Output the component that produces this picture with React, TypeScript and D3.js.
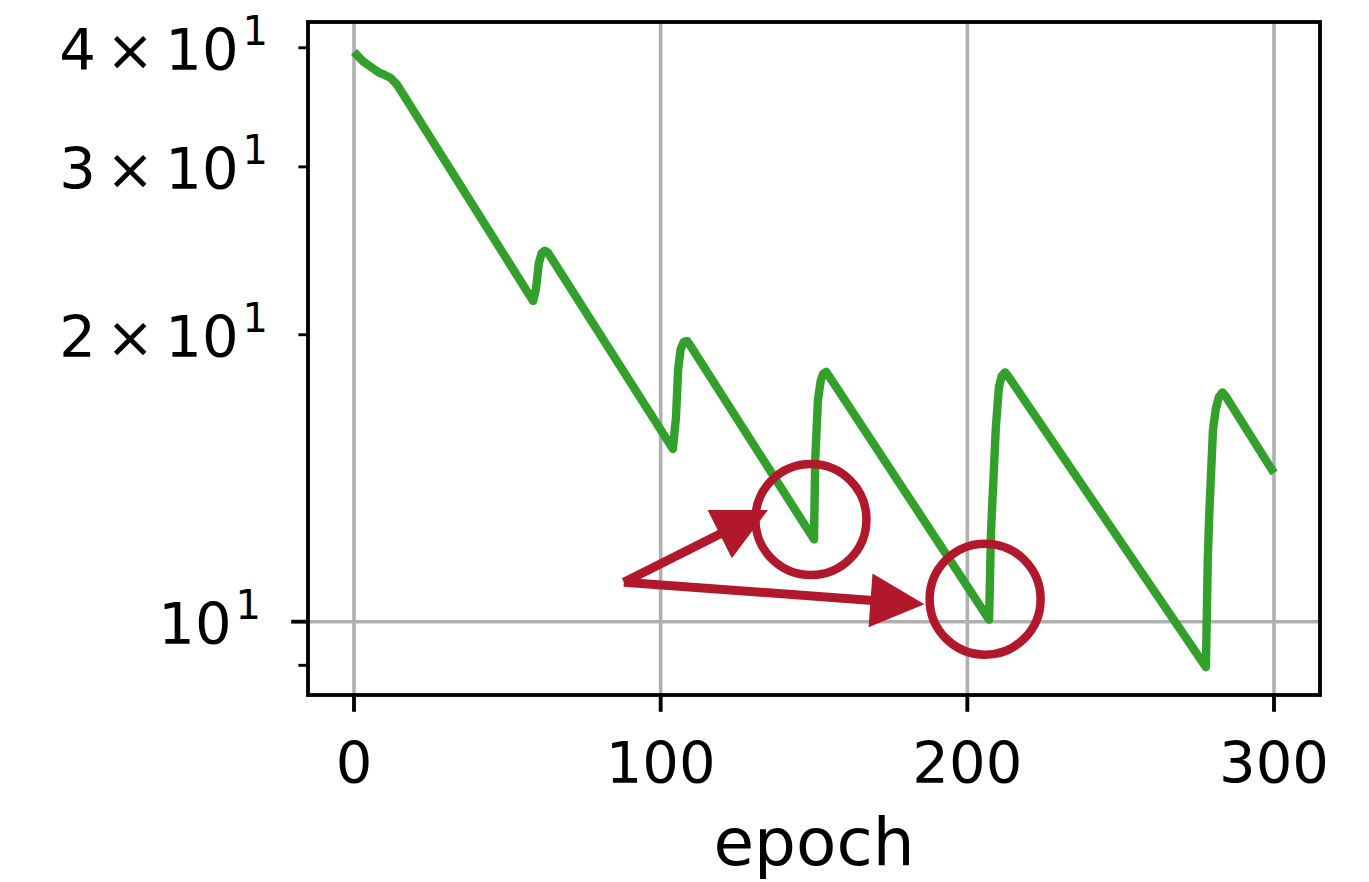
import React from "react";
import * as d3 from "d3";

// ---- data ----
const epochs = [
  0, 3, 5.5, 8, 10, 12, 14,
  58.4, 59.3, 60.3, 61.2, 62.2, 63.2,
  104.0, 105.0, 105.7, 106.5, 107.5, 108.6, 109.6,
  150.0, 150.4, 151.3, 152.2, 153.0, 154.0, 154.9,
  207.1, 207.7, 209.3, 210.3, 211.2, 212.3, 213.3,
  277.8, 278.4, 278.9, 280.1, 281.0, 282.0, 283.2, 284.2,
  300,
];
const losses = [
  39.6, 38.7, 38.2, 37.7, 37.46, 37.18, 36.6,
  21.7, 22.3, 23.8, 24.35, 24.5, 24.4,
  15.18, 16.4, 18.4, 19.3, 19.65, 19.7, 19.5,
  12.2, 14.8, 17.1, 17.9, 18.2, 18.28, 18.1,
  10.05, 12.39, 16.0, 17.63, 18.1, 18.26, 18.1,
  8.96, 11.6, 13.0, 15.9, 16.7, 17.2, 17.4, 17.25,
  14.32,
];
const xTicks = [0, 100, 200, 300];
const yMajorTicks = [10];
const yMinorTicks = [9, 20, 30, 40];
const yMinorLabeled = [20, 30, 40];
const xLabel = "epoch";

// annotation anchors (data coordinates)
const arrowTail: [number, number] = [88, 11];
const arrowTips: [number, number][] = [
  [135, 13.1],
  [186, 10.43],
];
const circleCenters: [number, number][] = [
  [149, 12.8],
  [205.8, 10.56],
];

const W = 1369;
const H = 882;
const L = 308, R = 1320, T = 22, B = 695;
const GREEN = "#33a02c";
const RED = "#b2182b";
const GRID = "#b0b0b0";
const FONT = "DejaVu Sans";
const TICK_FS = 57.6;
const SUP_FS = 40;

export default function App() {
  const x = d3.scaleLinear().domain([-15, 315]).range([L, R]);
  const y = d3.scaleLog().domain([8.377, 42.57]).range([B, T]);

  const pts: [number, number][] = epochs.map((e, i) => [e, losses[i]]);
  const line = d3
    .line<[number, number]>()
    .x((d) => x(d[0]))
    .y((d) => y(d[1]))
    .curve(d3.curveLinear);

  const tx = x(arrowTail[0]);
  const ty = y(arrowTail[1]);
  const headLen = 54;
  const headW = 54;

  const arrows = arrowTips.map(([ex, ey], i) => {
    const px = x(ex);
    const py = y(ey);
    const dx = px - tx;
    const dy = py - ty;
    const len = Math.hypot(dx, dy);
    const ux = dx / len, uy = dy / len;
    const bx = px - ux * headLen, by = py - uy * headLen;
    const nx = -uy, ny = ux;
    const head = [
      [px, py],
      [bx + nx * headW / 2, by + ny * headW / 2],
      [bx - nx * headW / 2, by - ny * headW / 2],
    ]
      .map((p) => p.join(","))
      .join(" ");
    return (
      <g key={i}>
        <line x1={tx} y1={ty} x2={bx + ux * 2} y2={by + uy * 2} stroke={RED} strokeWidth={9} />
        <polygon points={head} fill={RED} />
      </g>
    );
  });

  return (
    <svg
      width={W}
      height={H}
      style={{ position: "absolute", left: 0, top: 0, background: "#fff" }}
      fontFamily={FONT}
    >
      <rect x={0} y={0} width={W} height={H} fill="#fff" />
      {/* grid */}
      {xTicks.map((t) => (
        <line key={"gx" + t} x1={x(t)} x2={x(t)} y1={T} y2={B} stroke={GRID} strokeWidth={3.6} />
      ))}
      {yMajorTicks.map((t) => (
        <line key={"gy" + t} x1={L} x2={R} y1={y(t)} y2={y(t)} stroke={GRID} strokeWidth={3.6} />
      ))}

      {/* data line */}
      <path
        d={line(pts) || ""}
        fill="none"
        stroke={GREEN}
        strokeWidth={8.4}
        strokeLinejoin="round"
        strokeLinecap="butt"
      />

      {/* annotations */}
      {arrows}
      {circleCenters.map(([cx, cy], i) => (
        <circle key={"c" + i} cx={x(cx)} cy={y(cy)} r={55.5} fill="none" stroke={RED} strokeWidth={8.5} />
      ))}

      {/* spines */}
      <rect x={L} y={T} width={R - L} height={B - T} fill="none" stroke="#000" strokeWidth={3.84} />

      {/* x ticks */}
      {xTicks.map((t) => (
        <g key={"xt" + t}>
          <line x1={x(t)} x2={x(t)} y1={B} y2={B + 16.8} stroke="#000" strokeWidth={3.84} />
          <text x={x(t)} y={783} textAnchor="middle" fontSize={TICK_FS} fill="#000">
            {t}
          </text>
        </g>
      ))}
      <text x={(L + R) / 2} y={865} textAnchor="middle" fontSize={66} fill="#000">
        {xLabel}
      </text>

      {/* y ticks */}
      {yMajorTicks.map((t) => (
        <g key={"ymj" + t}>
          <line x1={L - 16.8} x2={L} y1={y(t)} y2={y(t)} stroke="#000" strokeWidth={3.84} />
          <text x={261} y={y(t) + 22} textAnchor="end" fontSize={TICK_FS} fill="#000">
            <tspan>10</tspan>
            <tspan dx={4} dy={-25} fontSize={SUP_FS}>1</tspan>
          </text>
        </g>
      ))}
      {yMinorTicks.map((t) => (
        <line key={"ymn" + t} x1={L - 9.6} x2={L} y1={y(t)} y2={y(t)} stroke="#000" strokeWidth={2.9} />
      ))}
      {yMinorLabeled.map((t) => (
        <text key={"yl" + t} x={268} y={y(t) + 22} textAnchor="end" fontSize={TICK_FS} fill="#000">
          <tspan>{t / 10}</tspan>
          <tspan dx={10}>×</tspan>
          <tspan dx={11}>10</tspan>
          <tspan dx={4} dy={-25} fontSize={SUP_FS}>1</tspan>
        </text>
      ))}
    </svg>
  );
}
